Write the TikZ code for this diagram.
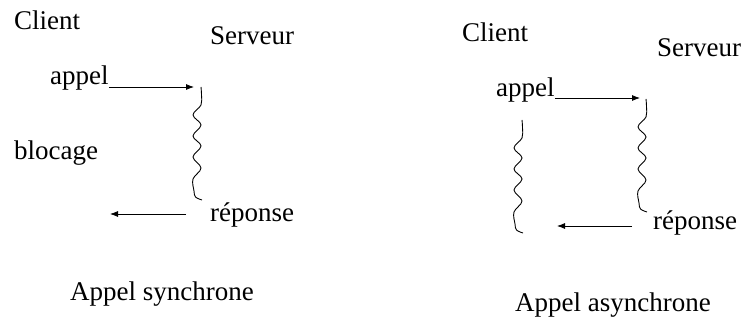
\documentclass[tikz,border=0pt]{standalone}
\usepackage{fontspec}
\setmainfont{Liberation Serif}
\usetikzlibrary{arrows.meta,calc}
\tikzset{
  lbl/.style={anchor=base west, inner sep=0pt, font=\fontsize{27}{31}\selectfont},
  msg/.style={line width=0.8pt, -{Latex[length=8pt,width=6pt]}},
  life/.style={line width=0.9pt}
}
\newcommand{\wavyline}[1]{%
  \draw[life] plot[smooth, tension=0.6] coordinates {
    ($(#1)+(0,0)$) ($(#1)+(0.5,8)$) ($(#1)+(0,18)$) ($(#1)+(-8,28)$) ($(#1)+(0,38)$)
    ($(#1)+(-8,49)$) ($(#1)+(0,59)$) ($(#1)+(-8,70)$) ($(#1)+(0,81)$) ($(#1)+(-8,92)$)
    ($(#1)+(-7,104)$) ($(#1)+(-5.5,110)$) ($(#1)+(1,113)$)};}
\begin{document}
\begin{tikzpicture}[x=1pt, y=-1pt]
\useasboundingbox (0,0) rectangle (741,320);
% ---- synchronous ----
\node[lbl] (C1) at (14,30) {Client};
\node[lbl] (S1) at (210,45) {Serveur};
\node[lbl] (A1) at (50,85) {appel};
\node[lbl] (B1) at (14,160) {blocage};
\node[lbl] (R1) at (210,222) {réponse};
\node[lbl] (T1) at (70,300) {Appel synchrone};
\coordinate (s1top) at (201,87);
\coordinate (a1end) at (194,87);
\coordinate (r1start) at (186,214);
\coordinate (r1end) at (110,214);
\draw[msg] (A1.east |- a1end) -- (a1end);
\wavyline{s1top}
\draw[msg] (r1start) -- (r1end);
% ---- asynchronous ----
\node[lbl] (C2) at (462,42) {Client};
\node[lbl] (S2) at (657,57) {Serveur};
\node[lbl] (A2) at (496,97) {appel};
\node[lbl] (R2) at (653,230) {réponse};
\node[lbl] (T2) at (515,311.7) {Appel asynchrone};
\coordinate (s2top) at (646,99);
\coordinate (c2top) at (522,120);
\coordinate (a2end) at (640,98);
\coordinate (r2start) at (632,226);
\coordinate (r2end) at (557,226);
\draw[msg] (A2.east |- a2end) -- (a2end);
\wavyline{s2top}
\wavyline{c2top}
\draw[msg] (r2start) -- (r2end);
\end{tikzpicture}
\end{document}
